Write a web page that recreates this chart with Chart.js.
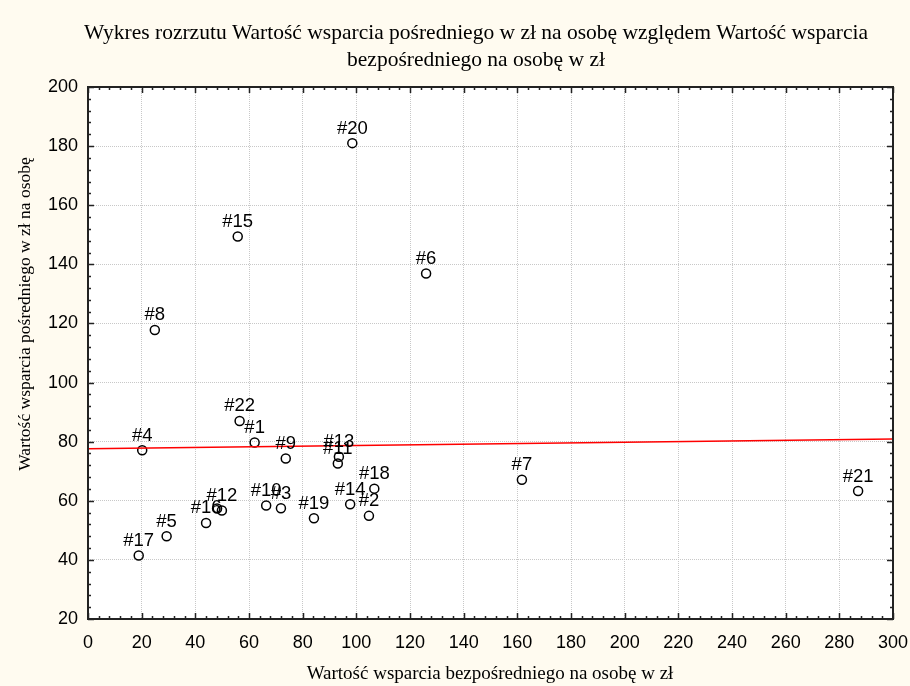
<!DOCTYPE html>
<html>
<head>
<meta charset="utf-8">
<script src="https://cdn.jsdelivr.net/npm/chart.js@4.4.1/dist/chart.umd.min.js"></script>
<style>
  html, body { margin: 0; padding: 0; background: #fffbf0; }
  #wrap { width: 910px; height: 686px; }
</style>
</head>
<body>
<div id="wrap"><canvas id="scatterChart" width="910" height="686"></canvas></div>
<script>
const pointLabels = ["#1", "#2", "#3", "#4", "#5", "#6", "#7", "#8", "#9", "#10", "#11",
  "#12", "#13", "#14", "#15", "#16", "#17", "#18", "#19", "#20", "#21", "#22", ""];
const directValues = [62.1, 104.7, 71.9, 20.2, 29.3, 126.0, 161.7, 24.9, 73.7, 66.4, 93.1,
  49.9, 93.5, 97.7, 55.8, 44.0, 18.9, 106.7, 84.2, 98.5, 287.0, 56.5, 48.1];
const indirectValues = [79.7, 54.9, 57.5, 77.1, 48.0, 136.9, 67.1, 117.8, 74.3, 58.4, 72.6,
  56.7, 74.9, 58.8, 149.4, 52.5, 41.5, 64.1, 54.1, 181.0, 63.3, 87.0, 57.4];
const fitX = [0, 300];
const fitY = [77.6, 80.9];

const titleLines = [
  "Wykres rozrzutu Wartość wsparcia pośredniego w zł na osobę względem Wartość wsparcia",
  "bezpośredniego na osobę w zł",
];
const xTitle = "Wartość wsparcia bezpośredniego na osobę w zł";
const yTitle = "Wartość wsparcia pośredniego w zł na osobę";

const sansFont = "'Liberation Sans', Arial, sans-serif";
const serifFont = "'Liberation Serif', 'Times New Roman', serif";

const framePlugin = {
  id: "frame",
  beforeDraw(chart) {
    const { ctx, chartArea: a } = chart;
    ctx.save();
    ctx.fillStyle = "#fffbf0";
    ctx.fillRect(0, 0, chart.width, chart.height);
    ctx.fillStyle = "#ffffff";
    ctx.fillRect(a.left, a.top, a.right - a.left, a.bottom - a.top);
    ctx.restore();
  },
  afterDatasetsDraw(chart) {
    const { ctx, chartArea: a, scales } = chart;
    const xs = scales.x, ys = scales.y;
    ctx.save();
    // labels above points
    const meta = chart.getDatasetMeta(1);
    ctx.fillStyle = "#000";
    ctx.font = "18.5px " + sansFont;
    ctx.textAlign = "center";
    ctx.textBaseline = "alphabetic";
    meta.data.forEach((pt, i) => {
      if (pointLabels[i]) ctx.fillText(pointLabels[i], pt.x, pt.y - 9.5);
    });

    // inward ticks on all four sides
    ctx.strokeStyle = "#222";
    ctx.lineWidth = 1.5;
    ctx.beginPath();
    for (let v = 0; v <= 300; v += 4) {
      const px = Math.round(xs.getPixelForValue(v)) + 0.5;
      const len = v % 20 === 0 ? 6 : 3;
      ctx.moveTo(px, a.bottom); ctx.lineTo(px, a.bottom - len);
      ctx.moveTo(px, a.top); ctx.lineTo(px, a.top + len);
    }
    for (let v = 20; v <= 200; v += 4) {
      const py = Math.round(ys.getPixelForValue(v)) + 0.5;
      const len = v % 20 === 0 ? 6 : 3;
      ctx.moveTo(a.left, py); ctx.lineTo(a.left + len, py);
      ctx.moveTo(a.right, py); ctx.lineTo(a.right - len, py);
    }
    ctx.stroke();

    ctx.lineWidth = 2;
    ctx.strokeRect(a.left, a.top, a.right - a.left, a.bottom - a.top);

    // titles
    ctx.fillStyle = "#000";
    ctx.textBaseline = "middle";
    ctx.font = "21.5px " + serifFont;
    ctx.fillText(titleLines[0], 476, 33);
    ctx.fillText(titleLines[1], 476, 60);
    ctx.textBaseline = "alphabetic";
    ctx.font = "19px " + serifFont;
    ctx.fillText(xTitle, 490, 679);
    ctx.translate(30, 314);
    ctx.rotate(-Math.PI / 2);
    ctx.font = "17.5px " + serifFont;
    ctx.fillText(yTitle, 0, 0);
    ctx.restore();
  },
};

const points = directValues.map((x, i) => ({ x, y: indirectValues[i] }));
const fitLine = fitX.map((x, i) => ({ x, y: fitY[i] }));

function noLabelPadding(s) {
  s.paddingLeft = 0;
  s.paddingRight = 0;
  s.paddingTop = 0;
  s.paddingBottom = 0;
}

new Chart(document.getElementById("scatterChart"), {
  type: "scatter",
  data: {
    datasets: [
      {
        type: "line",
        data: fitLine,
        borderColor: "#ff0000",
        borderWidth: 1.5,
        pointRadius: 0,
        fill: false,
      },
      {
        data: points,
        pointRadius: 4.5,
        pointBorderWidth: 1.5,
        borderColor: "#000",
        backgroundColor: "rgba(0,0,0,0)",
      },
    ],
  },
  options: {
    responsive: false,
    animation: false,
    events: [],
    layout: { padding: { top: 87, right: 17, left: 0, bottom: 0 } },
    plugins: { legend: { display: false }, tooltip: { enabled: false } },
    scales: {
      x: {
        type: "linear",
        min: 0,
        max: 300,
        afterFit: (s) => { s.height = 67; noLabelPadding(s); },
        ticks: { stepSize: 20, autoSkip: false, maxRotation: 0, padding: 13, color: "#000", font: { family: sansFont, size: 18 } },
        grid: { drawTicks: false, color: "#c8c8c8", lineWidth: 1 },
        border: { display: false, dash: [1, 1] },
      },
      y: {
        type: "linear",
        min: 20,
        max: 200,
        afterFit: (s) => { s.width = 88; noLabelPadding(s); },
        ticks: { stepSize: 20, padding: 10, color: "#000", font: { family: sansFont, size: 18 } },
        grid: { drawTicks: false, color: "#c8c8c8", lineWidth: 1 },
        border: { display: false, dash: [1, 1] },
      },
    },
  },
  plugins: [framePlugin],
});
</script>
</body>
</html>
